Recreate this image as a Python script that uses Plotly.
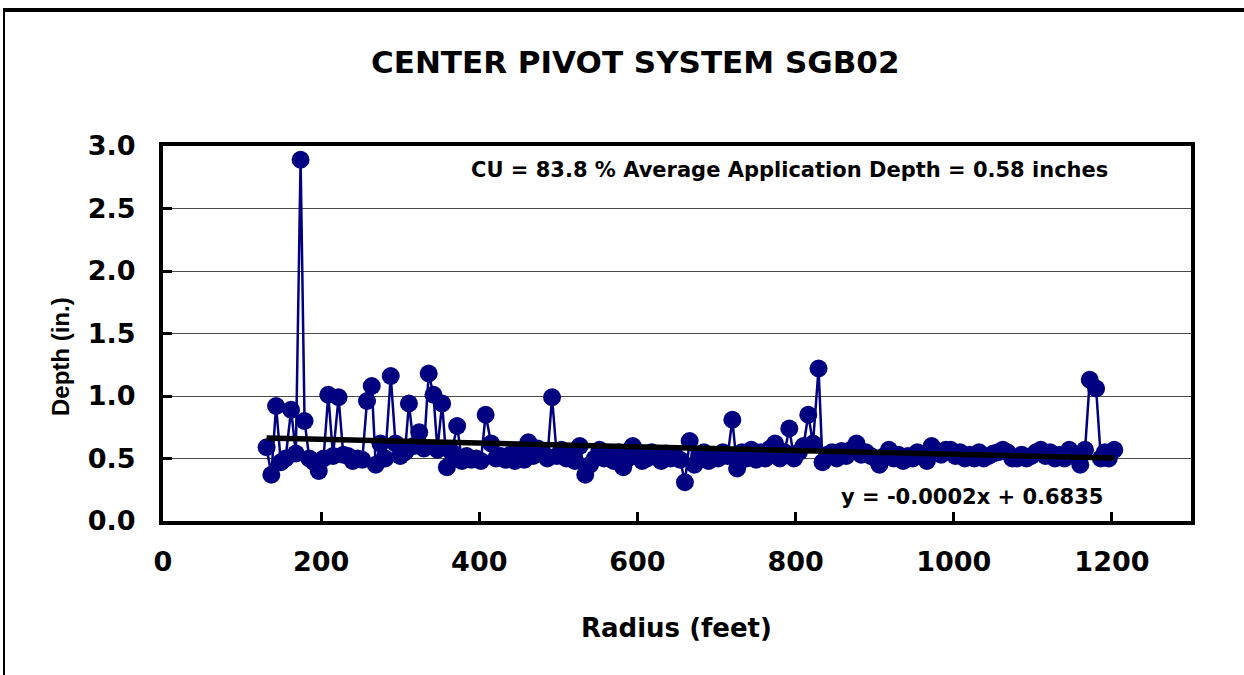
import plotly.graph_objects as go

radius_ft = [131, 137, 143, 149, 155, 162, 168, 174, 179, 185, 191, 197, 203, 209, 215, 222, 228, 234, 240, 246,
             252, 258, 264, 269, 275, 281, 288, 294, 300, 306, 311, 317, 324, 330, 336, 342, 347, 353, 359, 365,
             372, 378, 384, 390, 396, 402, 408, 415, 421, 427, 433, 439, 445, 451, 457, 462, 468, 474, 480, 486,
             492, 498, 504, 510, 516, 521, 527, 534, 540, 546, 552, 558, 564, 570, 576, 582, 588, 594, 600, 606,
             612, 618, 624, 630, 636, 642, 648, 654, 660, 666, 672, 678, 684, 690, 696, 702, 708, 714, 720, 726,
             732, 738, 744, 750, 756, 762, 768, 774, 780, 786, 792, 798, 804, 810, 816, 822, 829, 834, 840, 846,
             852, 858, 864, 870, 877, 883, 889, 895, 901, 906, 912, 918, 924, 930, 936, 942, 948, 954, 960, 966,
             972, 978, 984, 990, 996, 1002, 1008, 1014, 1020, 1026, 1032, 1038, 1044, 1050, 1056, 1062, 1068, 1074,
             1080, 1086, 1092, 1098, 1104, 1110, 1116, 1122, 1128, 1134, 1140, 1146, 1152, 1160, 1166, 1172, 1180,
             1186, 1191, 1196, 1203]

depth_in = [0.59, 0.37, 0.92, 0.47, 0.50, 0.89, 0.54, 2.89, 0.80, 0.50, 0.47, 0.40, 0.50, 1.01, 0.52, 0.99, 0.53, 0.52, 0.48, 0.50,
            0.49, 0.96, 1.08, 0.45, 0.62, 0.50, 1.16, 0.62, 0.52, 0.55, 0.94, 0.60, 0.71, 0.58, 1.18, 1.01, 0.57, 0.94, 0.43, 0.55,
            0.76, 0.48, 0.52, 0.49, 0.50, 0.48, 0.85, 0.62, 0.50, 0.52, 0.49, 0.53, 0.48, 0.55, 0.49, 0.63, 0.52, 0.58, 0.55, 0.50,
            0.99, 0.52, 0.57, 0.50, 0.55, 0.48, 0.60, 0.37, 0.45, 0.50, 0.57, 0.50, 0.52, 0.48, 0.55, 0.43, 0.50, 0.60, 0.52, 0.48,
            0.50, 0.55, 0.51, 0.48, 0.54, 0.50, 0.52, 0.49, 0.31, 0.64, 0.45, 0.52, 0.55, 0.48, 0.53, 0.50, 0.55, 0.52, 0.81, 0.42,
            0.55, 0.50, 0.57, 0.49, 0.55, 0.50, 0.58, 0.62, 0.50, 0.55, 0.74, 0.50, 0.55, 0.60, 0.85, 0.62, 1.22, 0.47, 0.53, 0.55,
            0.50, 0.56, 0.52, 0.57, 0.62, 0.53, 0.55, 0.52, 0.50, 0.45, 0.52, 0.57, 0.50, 0.53, 0.48, 0.52, 0.50, 0.55, 0.52, 0.48,
            0.60, 0.55, 0.53, 0.57, 0.57, 0.52, 0.55, 0.50, 0.53, 0.50, 0.55, 0.50, 0.52, 0.54, 0.55, 0.57, 0.55, 0.50,
            0.50, 0.53, 0.50, 0.52, 0.55, 0.57, 0.52, 0.55, 0.50, 0.53, 0.50, 0.57, 0.53, 0.45, 0.57, 1.13, 1.06,
            0.50, 0.55, 0.50, 0.57]

trend_slope = -0.00015
trend_intercept = 0.6835
trend_x = [radius_ft[0], radius_ft[-1]]
trend_y = [trend_slope * v + trend_intercept for v in trend_x]

x_ticks = [0, 200, 400, 600, 800, 1000, 1200]
y_ticks = [0.0, 0.5, 1.0, 1.5, 2.0, 2.5, 3.0]

title_text = "CENTER PIVOT SYSTEM SGB02"
cu_text = "CU = 83.8 % Average Application Depth = 0.58 inches"
eq_text = "y = -0.0002x + 0.6835"
x_title = "Radius (feet)"
y_title = "Depth (in.)"

WIDE = "DejaVu Sans, Arial, sans-serif"
NARROW = "Arial, Liberation Sans, sans-serif"
W, H = 1244, 675
L, R, T, B = 163, 1191, 146, 521
PW, PH = R - L, B - T


def px(x):
    return (x - L) / PW


def py(y):
    return (B - y) / PH


fig = go.Figure()
fig.add_trace(go.Scatter(
    x=radius_ft, y=depth_in, mode="lines+markers",
    line=dict(color="#000080", width=2.5),
    marker=dict(symbol="circle", size=18, color="#000080", line=dict(width=0)),
    showlegend=False, cliponaxis=False,
))
fig.add_trace(go.Scatter(
    x=trend_x, y=trend_y, mode="lines",
    line=dict(color="black", width=5.5),
    showlegend=False,
))

fig.update_layout(
    width=W, height=H,
    margin=dict(l=L, r=W - R, t=T, b=H - B, pad=0),
    paper_bgcolor="white", plot_bgcolor="white",
    font=dict(family=WIDE, color="black"),
    xaxis=dict(range=[0, 1300], tickvals=x_ticks, ticktext=[str(v) for v in x_ticks],
               showgrid=False, zeroline=False,
               showline=True, linecolor="black", linewidth=4, mirror=True,
               ticks="inside", ticklen=9, tickwidth=3, tickcolor="black",
               tickfont=dict(size=27, family=WIDE, weight="bold"),
               ticklabelstandoff=14),
    yaxis=dict(range=[0, 3], tickvals=y_ticks, ticktext=[f"{v:.1f}" for v in y_ticks],
               showgrid=True, gridcolor="#4a4a4a", gridwidth=1, zeroline=False,
               showline=True, linecolor="black", linewidth=4, mirror=True,
               ticks="inside", ticklen=9, tickwidth=3, tickcolor="black",
               tickfont=dict(size=27, family=WIDE, weight="bold"),
               ticklabelstandoff=18),
    annotations=[
        dict(text=f"<b>{title_text}</b>", x=px(635), y=py(62), xref="paper", yref="paper",
             showarrow=False, xanchor="center", yanchor="middle", font=dict(size=31, family=WIDE)),
        dict(text=f"<b>{cu_text}</b>", x=px(1110), y=py(170), xref="paper", yref="paper",
             showarrow=False, xanchor="right", yanchor="middle", font=dict(size=21, family=WIDE)),
        dict(text=f"<b>{eq_text}</b>", x=px(1105), y=py(497), xref="paper", yref="paper",
             showarrow=False, xanchor="right", yanchor="middle", font=dict(size=21, family=WIDE)),
        dict(text=f"<b>{x_title}</b>", x=px(676), y=py(628), xref="paper", yref="paper",
             showarrow=False, xanchor="center", yanchor="middle", font=dict(size=26, family=WIDE)),
        dict(text=f"<b>{y_title}</b>", x=px(60), y=py(357), xref="paper", yref="paper",
             showarrow=False, xanchor="center", yanchor="middle", textangle=-90,
             font=dict(size=24, family=NARROW)),
    ],
    shapes=[
        dict(type="line", xref="paper", yref="paper", x0=px(3), x1=px(1250), y0=py(10), y1=py(10),
             line=dict(color="black", width=4)),
        dict(type="line", xref="paper", yref="paper", x0=px(4), x1=px(4), y0=py(8), y1=py(690),
             line=dict(color="black", width=2)),
    ],
)

fig.write_html("out.html", config={"displayModeBar": False},
               post_script="document.body.style.margin='0';document.body.style.padding='0';")
